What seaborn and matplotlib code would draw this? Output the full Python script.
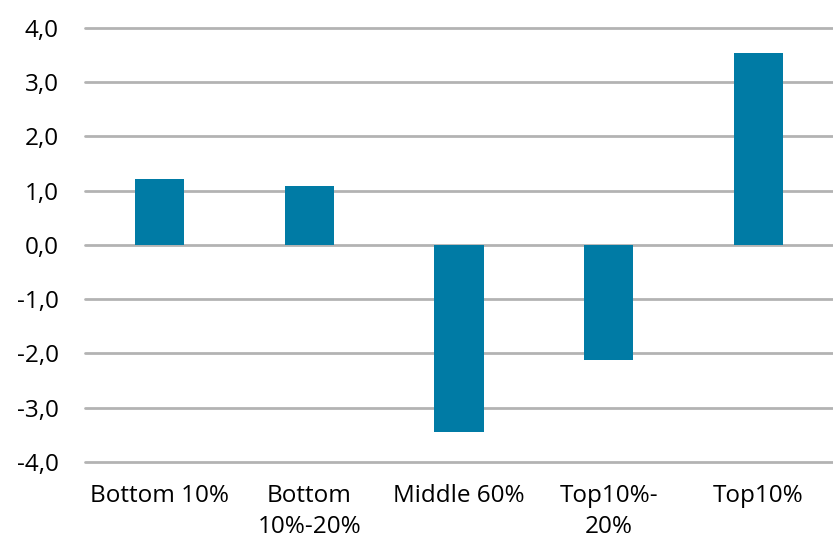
import matplotlib
matplotlib.use("Agg")
import matplotlib.pyplot as plt
import seaborn as sns
import pandas as pd
from matplotlib.ticker import FuncFormatter, FixedLocator

categories = ["Bottom 10%", "Bottom\n10%-20%", "Middle 60%", "Top10%-\n20%", "Top10%"]
values = [1.22, 1.08, -3.45, -2.13, 3.53]
yticks = [-4, -3, -2, -1, 0, 1, 2, 3, 4]

sns.set_style("white")
plt.rcParams['font.family'] = ['Open Sans', 'DejaVu Sans']

df = pd.DataFrame({"cat": categories, "val": values})

fig = plt.figure(figsize=(8.33, 5.38), dpi=100)
ax = fig.add_axes([0.102, 0.1413, 0.898, 0.8072])

sns.barplot(data=df, x="cat", y="val", color="#007BA5", saturation=1,
            width=0.33, ax=ax, zorder=3, linewidth=0, edgecolor="none")

ax.set_ylim(-4, 4)
ax.set_xlim(-0.5, 4.5)
ax.yaxis.set_major_locator(FixedLocator(yticks))
ax.yaxis.set_major_formatter(FuncFormatter(lambda v, p: f"{v:.1f}".replace(".", ",")))
ax.grid(axis="y", color="#B3B3B3", linewidth=2)
for gl in ax.get_ygridlines():
    gl.set_clip_on(False)
ax.set_axisbelow(True)
for s in ax.spines.values():
    s.set_visible(False)
ax.set_xlabel("")
ax.set_ylabel("")
ax.tick_params(axis="y", length=0, pad=19, labelsize=17.5, labelcolor="#000000")
ax.tick_params(axis="x", length=0, pad=16, labelsize=17.5, labelcolor="#000000")
for lbl in ax.get_xticklabels():
    lbl.set_linespacing(1.4)

fig.savefig("out.png", dpi=100)
